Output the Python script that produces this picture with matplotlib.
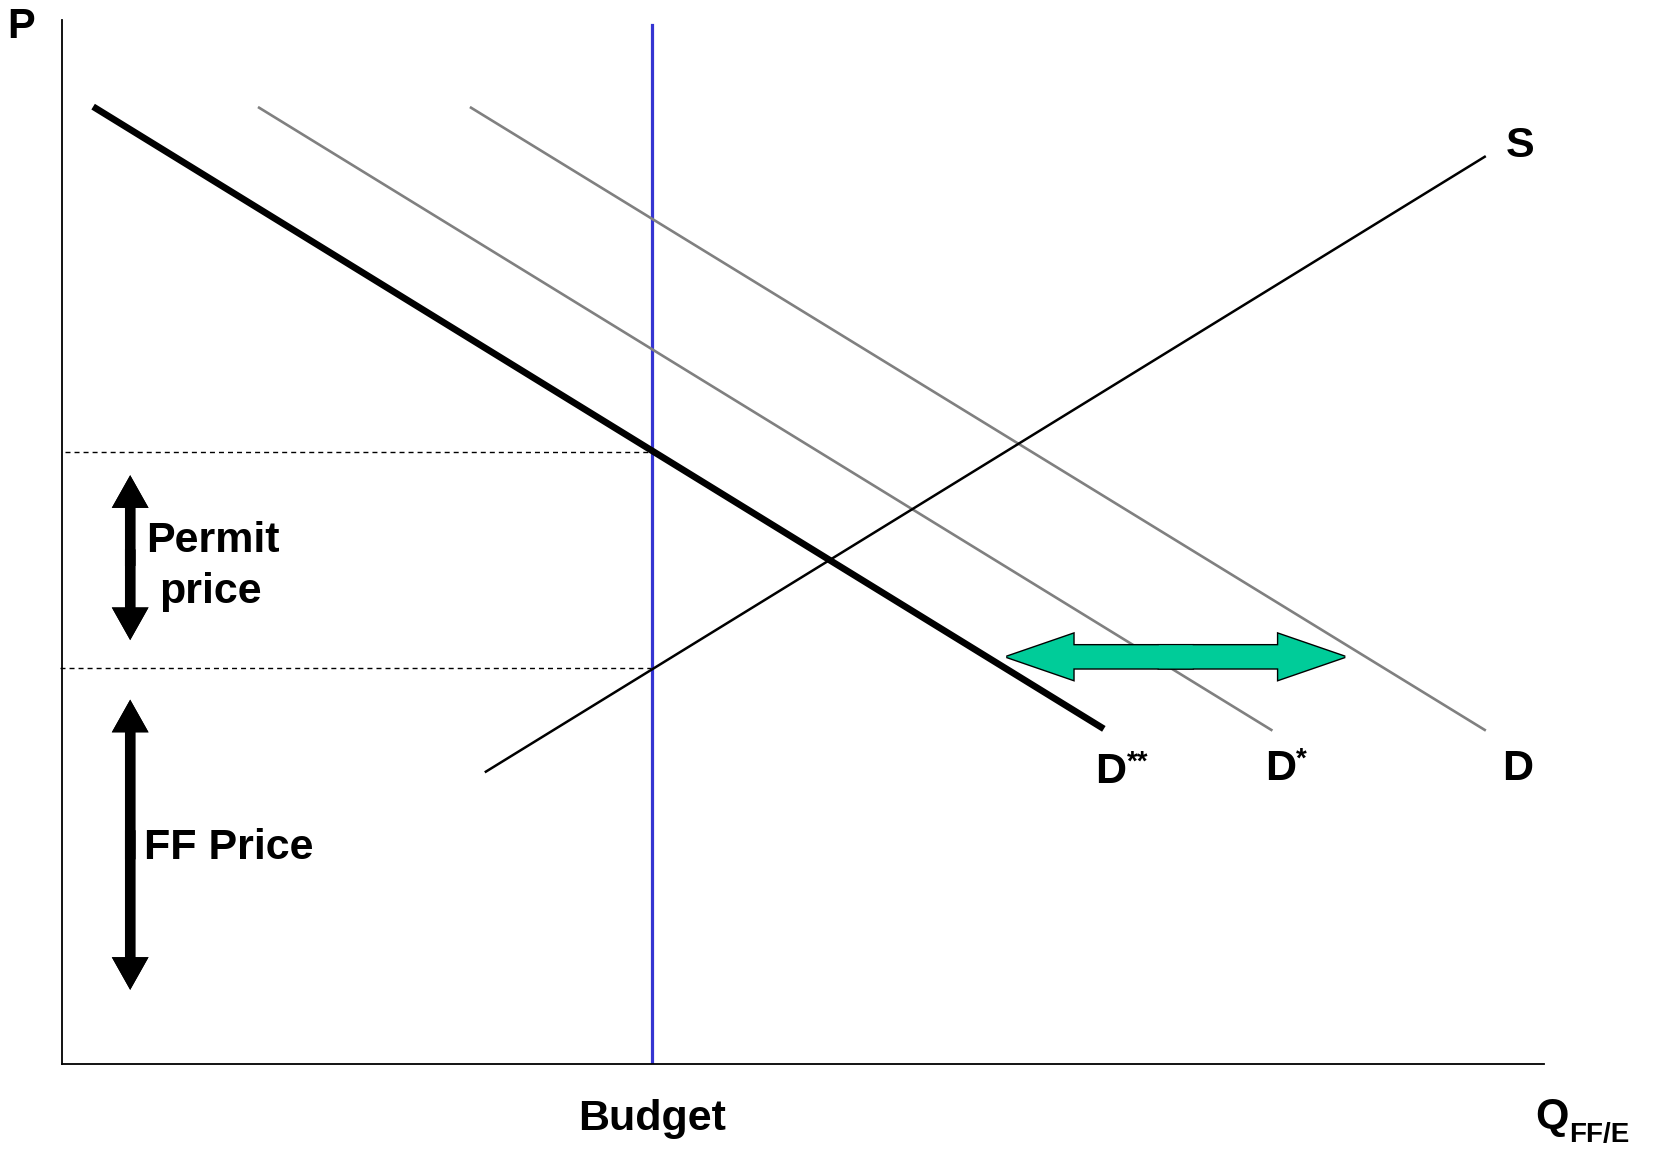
import matplotlib.pyplot as plt

# curves (quantity, price) in chart units: Q 0..100, P 0..100
d2_q = [2.1, 70.3]
d2_p = [91.7, 32.1]
d1_q = [13.3, 81.6]
d1_p = [91.6, 32.0]
d_q = [27.6, 96.0]
d_p = [91.6, 32.0]
s_q = [28.6, 96.0]
s_p = [28.0, 86.9]

budget_q = 39.8
budget_top = 99.5
permit_p = 58.6
ff_p = 37.9

FONT = 'Liberation Sans'


def double_arrow(ax, x0, y0, x1, y1, width, hw, hl, fc, ec='none', lw=0):
    # two arrows from the middle out, overlapping a little so no seam shows;
    # outlines go underneath, fills on top
    xm, ym = (x0 + x1) / 2, (y0 + y1) / 2
    kw = dict(width=width, head_width=hw, head_length=hl,
              length_includes_head=True, clip_on=False)
    for e, w, z in ((ec, lw, 4), ('none', 0, 5)):
        for tx, ty in ((x0, y0), (x1, y1)):
            dx, dy = tx - xm, ty - ym
            sx, sy = xm - 0.1 * dx, ym - 0.1 * dy
            ax.arrow(sx, sy, tx - sx, ty - sy, fc=fc, ec=e, lw=w, zorder=z,
                     **kw)


fig = plt.figure(figsize=(16.55, 11.5), dpi=100)
ax = fig.add_axes([62 / 1655, 86 / 1150, 1482 / 1655, 1044 / 1150])
ax.set_xlim(0, 100)
ax.set_ylim(0, 100)
for side in ('top', 'right'):
    ax.spines[side].set_visible(False)
for side in ('left', 'bottom'):
    ax.spines[side].set_linewidth(1.3)
ax.set_xticks([])
ax.set_yticks([])

# dashed price levels
ax.plot([0.2, budget_q], [permit_p, permit_p], color='black', lw=1,
        dashes=(3.6, 2.9), clip_on=False)
ax.plot([-0.15, budget_q], [ff_p, ff_p], color='black', lw=1,
        dashes=(3.6, 2.9), clip_on=False)

# budget
ax.plot([budget_q, budget_q], [0, budget_top], color='#3535d2', lw=2.3)

# demand and supply
ax.plot(d_q, d_p, color='#808080', lw=1.9)
ax.plot(d1_q, d1_p, color='#808080', lw=1.9)
ax.plot(d2_q, d2_p, color='black', lw=4.8, solid_capstyle='butt')
ax.plot(s_q, s_p, color='black', lw=1.8)

# price brackets
double_arrow(ax, 4.6, 56.4, 4.6, 40.6, 0.7, 2.48, 3.13, 'black')
double_arrow(ax, 4.6, 34.9, 4.6, 7.1, 0.7, 2.48, 3.13, 'black')

# green shift arrow
double_arrow(ax, 63.74, 39.0, 86.57, 39.0, 2.2, 4.4, 4.5, '#00cc99',
             ec='black', lw=2.0)

tk = dict(family=FONT, weight='bold', color='black', clip_on=False)
ax.text(10.2, 49.0, 'Permit', fontsize=31, ha='center', va='baseline', **tk)
ax.text(10.0, 44.2, 'price', fontsize=31, ha='center', va='baseline', **tk)
ax.text(5.5, 19.6, 'FF Price', fontsize=31, ha='left', va='baseline', **tk)

ax.text(98.4, 87.9, 'S', fontsize=31, ha='center', va='center', **tk)
ax.text(69.7, 26.9, 'D', fontsize=31, ha='left', va='baseline', **tk)
ax.text(71.85, 28.2, '**', fontsize=20, ha='left', va='baseline', **tk)
ax.text(81.2, 27.2, 'D', fontsize=31, ha='left', va='baseline', **tk)
ax.text(83.25, 28.5, '*', fontsize=20, ha='left', va='baseline', **tk)
ax.text(97.2, 27.2, 'D', fontsize=31, ha='left', va='baseline', **tk)

ax.text(budget_q, -6.3, 'Budget', fontsize=31, ha='center', va='baseline', **tk)
ax.text(99.4, -6.1, 'Q', fontsize=31, ha='left', va='baseline', **tk)
ax.text(101.7, -7.5, 'FF/E', fontsize=20, ha='left', va='baseline', **tk)
ax.text(-3.7, 98.3, 'P', fontsize=30, ha='left', va='baseline', **tk)

fig.savefig('out.png', dpi=100)
